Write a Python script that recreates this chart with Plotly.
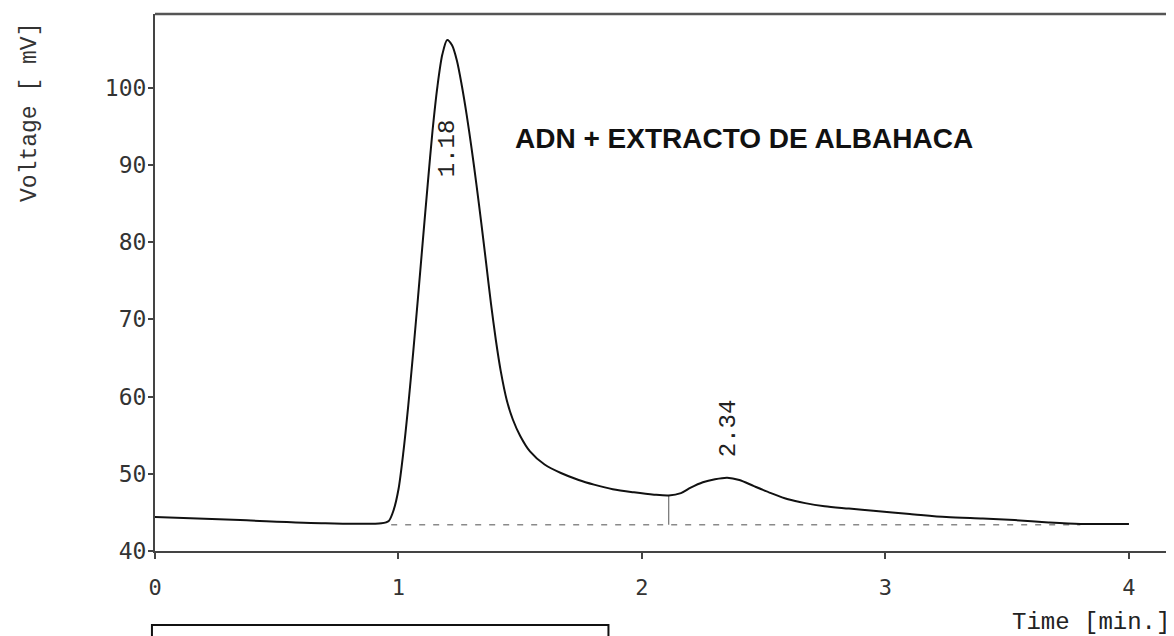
import plotly.graph_objects as go

# Chromatogram trace (time in min, voltage in mV)
time_min = [0.0, 0.35, 0.7, 0.93, 0.96, 0.98, 1.0, 1.02, 1.04, 1.06, 1.08, 1.10, 1.12,
            1.14, 1.16, 1.18, 1.20, 1.22, 1.24, 1.26, 1.28, 1.30, 1.32, 1.34, 1.36, 1.38,
            1.40, 1.42, 1.445, 1.47, 1.50, 1.54, 1.6, 1.667, 1.74, 1.803, 1.88, 1.967,
            2.05, 2.11, 2.16, 2.2, 2.25, 2.30, 2.35, 2.40, 2.46, 2.53, 2.60, 2.67, 2.75,
            2.85, 2.95, 3.1, 3.25, 3.4, 3.53, 3.67, 3.80, 4.0]
voltage_mv = [44.4, 44.0, 43.6, 43.6, 43.9, 45.3, 48.0, 52.8, 58.8, 65.6, 72.8, 80.2, 87.5,
              94.5, 100.2, 104.3, 106.2, 105.5, 103.5, 100.3, 96.5, 92.2, 87.5, 82.5, 77.3, 72.0,
              67.3, 63.3, 59.5, 57.0, 54.9, 52.9, 51.2, 50.1, 49.2, 48.6, 48.0, 47.6,
              47.3, 47.2, 47.5, 48.2, 48.9, 49.3, 49.5, 49.2, 48.4, 47.5, 46.7, 46.2, 45.8,
              45.5, 45.2, 44.8, 44.4, 44.2, 44.0, 43.7, 43.5, 43.5]

# Integration baseline and peak split marker
baseline_t = [0.97, 3.80]
baseline_v = [43.4, 43.4]
split_t = [2.11, 2.11]
split_v = [43.4, 47.2]

# Peak labels
peak_times = [1.20, 2.353]
peak_label_y = [92.2, 55.9]
peak_labels = ["1.18", "2.34"]

x_ticks = [0, 1, 2, 3, 4]
y_ticks = [40, 50, 60, 70, 80, 90, 100]

fig = go.Figure()
fig.add_trace(go.Scatter(x=baseline_t, y=baseline_v, mode="lines",
                         line=dict(color="#8a8a8a", width=1.5, dash="6px,8px"),
                         hoverinfo="skip", showlegend=False))
fig.add_trace(go.Scatter(x=split_t, y=split_v, mode="lines",
                         line=dict(color="#555555", width=1),
                         hoverinfo="skip", showlegend=False))
fig.add_trace(go.Scatter(x=time_min, y=voltage_mv, mode="lines",
                         line=dict(color="#111111", width=2, shape="spline", smoothing=0.8),
                         showlegend=False))

for t, yv, lab in zip(peak_times, peak_label_y, peak_labels):
    fig.add_annotation(x=t, y=yv, text=lab, textangle=-90, showarrow=False,
                       xanchor="center", yanchor="middle",
                       font=dict(family="Liberation Mono", size=24, color="#222"))

fig.add_annotation(x=2.42, y=93.4, text="ADN + EXTRACTO DE ALBAHACA", showarrow=False,
                   xanchor="center", yanchor="middle",
                   font=dict(family="Liberation Sans", size=28, color="#111", weight="bold"))

fig.add_annotation(xref="paper", yref="paper", x=-0.1227, y=0.8175, text="Voltage [ mV]",
                   textangle=-90, showarrow=False, xanchor="center", yanchor="middle",
                   font=dict(family="Liberation Mono", size=23, color="#333"))
fig.add_annotation(xref="paper", yref="paper", x=0.9186, y=-0.134, text="Time [min.]",
                   showarrow=False, xanchor="center", yanchor="middle",
                   font=dict(family="Liberation Mono", size=24, color="#222"))

# top frame line
fig.add_shape(type="line", xref="paper", yref="paper", x0=0, x1=1, y0=1, y1=1,
              line=dict(color="#555", width=2.5))
# empty box below chart
fig.add_shape(type="rect", xref="paper", yref="paper", x0=-0.003, x1=0.445, y0=-0.138, y1=-0.2,
              line=dict(color="#111", width=2))

fig.update_xaxes(range=[0, 4.185], tickvals=x_ticks, showgrid=False, zeroline=False,
                 showline=True, linecolor="#444", linewidth=2, ticks="outside", ticklen=6,
                 tickcolor="#444", tickwidth=1.5, ticklabelstandoff=10,
                 tickfont=dict(family="DejaVu Sans Mono", size=22, color="#333"))
fig.update_yaxes(range=[40, 109.56], tickvals=y_ticks, showgrid=False, zeroline=False,
                 showline=True, linecolor="#444", linewidth=2, ticks="outside", ticklen=5,
                 tickcolor="#444", tickwidth=1.5, ticklabelstandoff=-3,
                 tickfont=dict(family="DejaVu Sans Mono", size=23, color="#333"))

fig.update_layout(width=1174, height=636, margin=dict(l=147, r=8, t=6, b=93),
                  paper_bgcolor="white", plot_bgcolor="white")

fig.write_html("out.html")
